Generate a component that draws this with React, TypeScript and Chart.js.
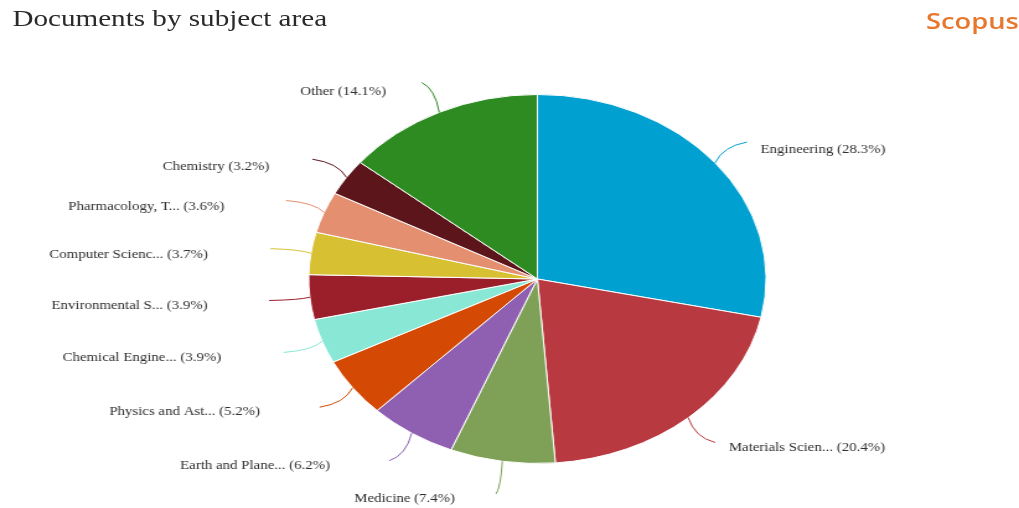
import React, { useEffect, useRef } from "react";
import { Chart, registerables } from "chart.js";

Chart.register(...registerables);

const categories = [
  "Engineering",
  "Materials Scien...",
  "Medicine",
  "Earth and Plane...",
  "Physics and Ast...",
  "Chemical Engine...",
  "Environmental S...",
  "Computer Scienc...",
  "Pharmacology, T...",
  "Chemistry",
  "Other",
];
const percentages = [28.3, 20.4, 7.4, 6.2, 5.2, 3.9, 3.9, 3.7, 3.6, 3.2, 14.1];
const sliceColors = [
  "#00a0d1",
  "#b8393f",
  "#7fa157",
  "#8f60b1",
  "#d44a05",
  "#88e8d5",
  "#9a1f2a",
  "#d8c033",
  "#e38f70",
  "#5c161b",
  "#2e8b22",
];

const STRETCH = 1019 / 822;

const labelPlugin = {
  id: "pieLabels",
  afterDatasetsDraw(chart: any) {
    const ctx = chart.ctx;
    const meta = chart.getDatasetMeta(0);
    ctx.save();
    ctx.font = "12px 'Liberation Serif', 'Times New Roman', serif";
    ctx.textBaseline = "middle";
    meta.data.forEach((arc: any, i: number) => {
      const { x, y, startAngle, endAngle, outerRadius } = arc.getProps(
        ["x", "y", "startAngle", "endAngle", "outerRadius"],
        true
      );
      const mid = (startAngle + endAngle) / 2;
      const c = Math.cos(mid);
      const s = Math.sin(mid);
      const r0 = outerRadius;
      const r1 = outerRadius + 33;
      const sx = x + r0 * c;
      const sy = y + r0 * s;
      const ex = x + r1 * c;
      const ey = y + r1 * s;
      const qx = sx + 0.25 * (ex - sx);
      const qy = sy + 0.8 * (ey - sy);
      ctx.strokeStyle = sliceColors[i];
      ctx.lineWidth = 1;
      ctx.beginPath();
      ctx.moveTo(sx, sy);
      ctx.quadraticCurveTo(qx, qy, ex, ey);
      ctx.stroke();

      const text = `${categories[i]} (${percentages[i]}%)`;
      ctx.fillStyle = "#2e2e2e";
      const w = ctx.measureText(text).width;
      const dy = s < 0 ? 5 - 5 * s : 5;
      if (c >= 0) {
        ctx.textAlign = "left";
        ctx.fillText(text, ex + 11, ey + dy);
      } else {
        ctx.textAlign = "right";
        ctx.fillText(text, ex - 3 - 0.37 * w, ey + dy);
      }
    });
    ctx.restore();
  },
};

export default function App() {
  const canvasRef = useRef<HTMLCanvasElement>(null);

  useEffect(() => {
    const canvas = canvasRef.current;
    if (!canvas) return;
    const chart = new Chart(canvas, {
      type: "pie",
      data: {
        labels: categories,
        datasets: [
          {
            data: percentages,
            backgroundColor: sliceColors,
            borderColor: "#ffffff",
            borderWidth: 1,
          },
        ],
      },
      options: {
        responsive: false,
        animation: false,
        layout: { padding: { top: 94, bottom: 44, left: 100, right: 55 } },
        plugins: {
          legend: { display: false },
          tooltip: { enabled: false },
          title: { display: false },
        },
      },
      plugins: [labelPlugin],
    });
    return () => chart.destroy();
  }, []);

  return (
    <div
      style={{
        position: "fixed",
        left: 0,
        top: 0,
        width: 1019,
        height: 508,
        overflow: "hidden",
        background: "#ffffff",
      }}
    >
      <div
        style={{
          position: "absolute",
          left: 0,
          top: 0,
          width: 822,
          height: 508,
          transform: `scaleX(${STRETCH})`,
          transformOrigin: "0 0",
        }}
      >
        <div
          style={{
            position: "absolute",
            left: 10,
            top: 7,
            fontFamily: "'Liberation Serif', 'Times New Roman', serif",
            fontSize: 23.5,
            lineHeight: "23.5px",
            color: "#2a2a2a",
            whiteSpace: "nowrap",
          }}
        >
          Documents by subject area
        </div>
        <div
          style={{
            position: "absolute",
            left: 747,
            top: 8.5,
            fontFamily: "'Open Sans', sans-serif",
            fontWeight: 600,
            fontSize: 22,
            lineHeight: "22px",
            color: "#e8772e",
            whiteSpace: "nowrap",
          }}
        >
          Scopus
        </div>
        <canvas
          ref={canvasRef}
          width={822}
          height={508}
          style={{ position: "absolute", left: 0, top: 0, width: 822, height: 508 }}
        />
      </div>
    </div>
  );
}
